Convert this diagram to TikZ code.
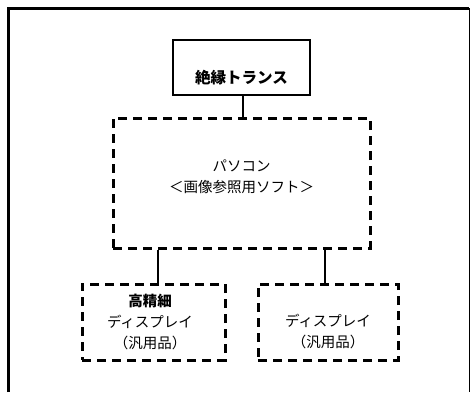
\documentclass[tikz,border=0pt]{standalone}
\usepackage{fontspec}
\newfontfamily\jp{Noto Sans CJK JP}
\tikzset{
  solidbox/.style={draw=black, line width=2pt, minimum width=137pt, minimum height=55pt, inner sep=0pt},
  dashbox/.style={draw=black, line width=3pt, dash pattern=on 9pt off 6pt, inner sep=0pt},
  txt/.style={font=\jp\fontsize{14.5}{21}\selectfont, align=center, inner sep=0pt},
  link/.style={draw=black, line width=2pt},
}
\begin{document}
\begin{tikzpicture}[x=1pt,y=-1pt]
\useasboundingbox[fill=white] (0,0) rectangle (471,392);
% outer frame
\draw[line width=3pt] (8.5,392) -- (8.5,8.5) -- (469,8.5);
\draw[line width=1pt] (469,8) -- (469,392);
% boxes
\node[solidbox] (trans) at (241.5,67.5) {};
\node[txt, font=\jp\bfseries\fontsize{15.5}{20}\selectfont] (transtext) at (241.5,78) {絶縁トランス};
\node[dashbox, minimum width=257pt, minimum height=130pt] (pc) at (241.5,183) {};
\node[txt] (pctext) at (241.5,177) {パソコン\\＜画像参照用ソフト＞};
\node[dashbox, minimum width=143pt, minimum height=76pt] (left) at (153.5,322) {};
\node[txt] (lefttext) at (150,321.5) {\textbf{高精細}\\ディスプレイ\\（汎用品）};
\node[dashbox, minimum width=140pt, minimum height=76pt] (right) at (328,322) {};
\node[txt] (righttext) at (328,332) {ディスプレイ\\（汎用品）};
% connectors
\draw[link] (trans.south -| 243,0) -- (pc.north -| 243,0);
\draw[link] (pc.south -| 158,0) -- (left.north -| 158,0);
\draw[link] (pc.south -| 325,0) -- (right.north -| 325,0);
\end{tikzpicture}
\end{document}
